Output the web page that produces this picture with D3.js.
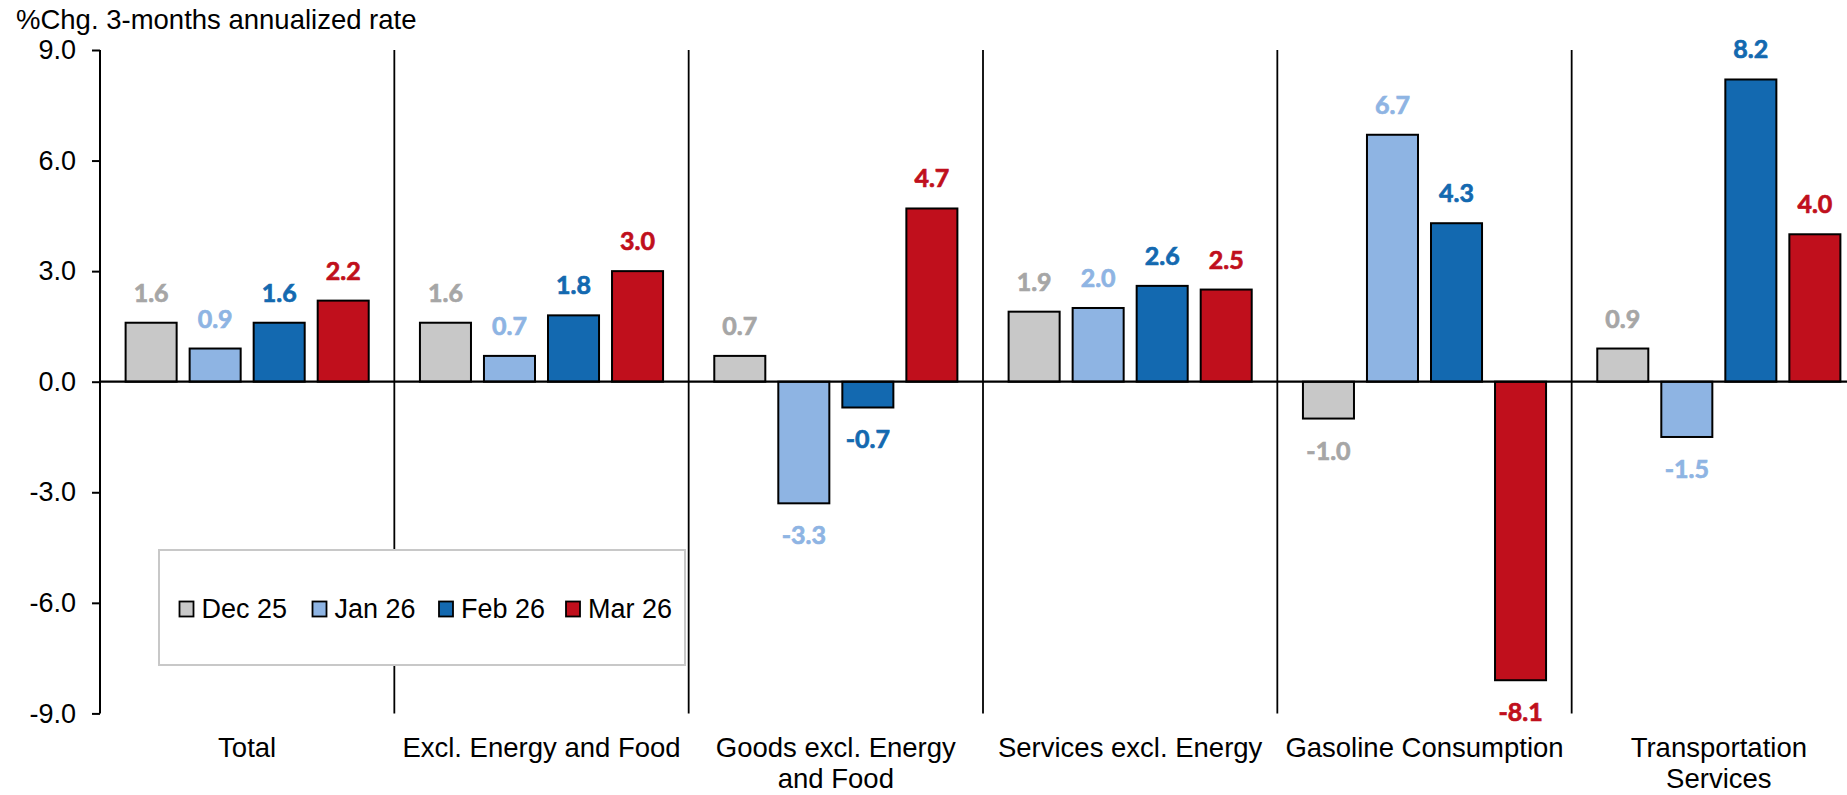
<!DOCTYPE html>
<html>
<head>
<meta charset="utf-8">
<script src="https://cdn.jsdelivr.net/npm/d3@7/dist/d3.min.js"></script>
<style>
  html, body { margin: 0; padding: 0; background: #fff; }
  svg { display: block; }
</style>
</head>
<body>
<svg id="chart" width="1847" height="795"></svg>
<script>
// Category labels (line breaks mark the wrapped axis labels)
const categories = [
  "Total",
  "Excl. Energy and Food",
  "Goods excl. Energy\nand Food",
  "Services excl. Energy",
  "Gasoline Consumption",
  "Transportation\nServices"
];
const seriesNames = ["Dec 25", "Jan 26", "Feb 26", "Mar 26"];

// %Chg., 3-months annualized rate, one array per month
const dec25 = [1.6, 1.6, 0.7, 1.9, -1.0, 0.9];
const jan26 = [0.9, 0.7, -3.3, 2.0, 6.7, -1.5];
const feb26 = [1.6, 1.8, -0.7, 2.6, 4.3, 8.2];
const mar26 = [2.2, 3.0, 4.7, 2.5, -8.1, 4.0];

const yTicks = [-9, -6, -3, 0, 3, 6, 9];

const fills = ["#C8C8C8", "#8EB4E3", "#1369B0", "#C00F1C"];
const labelColors = ["#A6A6A6", "#8EB4E3", "#1369B0", "#C00F1C"];

const seriesValues = [dec25, jan26, feb26, mar26];
const rows = [];
categories.forEach((c, ci) => {
  seriesNames.forEach((s, si) => {
    rows.push({ category: c, series: s, si, value: seriesValues[si][ci] });
  });
});

const svg = d3.select("#chart");
const axisFont = "'Liberation Sans', Arial, sans-serif";
const labelFont = "Lato, 'Open Sans', sans-serif";

const x0 = d3.scaleBand().domain(categories).range([100, 1866]).paddingInner(0).paddingOuter(0);
const x1 = d3.scaleBand().domain(seriesNames).range([0, x0.bandwidth()]).paddingInner(0.203).paddingOuter(0.4);
const y = d3.scaleLinear().domain([-9, 9]).range([713.4, 50]);

// Title
svg.append("text")
  .attr("x", 16).attr("y", 29)
  .attr("font-family", axisFont).attr("font-size", 27.5)
  .attr("fill", "#000")
  .text("%Chg. 3-months annualized rate");

// Category separators
svg.append("g").selectAll("line")
  .data(categories.slice(1))
  .join("line")
  .attr("x1", d => x0(d)).attr("x2", d => x0(d))
  .attr("y1", y(9)).attr("y2", y(-9))
  .attr("stroke", "#000").attr("stroke-width", 1.8);

// Y axis
const yAxis = svg.append("g")
  .attr("transform", "translate(100,0)")
  .call(d3.axisLeft(y).tickValues(yTicks).tickFormat(d => d.toFixed(1)).tickSize(8).tickPadding(16));
yAxis.select(".domain").attr("stroke", "#000").attr("stroke-width", 2).attr("d", `M0,${y(9)}V${y(-9)}`);
yAxis.selectAll(".tick line").attr("stroke", "#000").attr("stroke-width", 2);
yAxis.selectAll(".tick text")
  .attr("font-family", axisFont).attr("font-size", 27).attr("fill", "#000");

// Bars
const groups = svg.append("g").selectAll("g")
  .data(categories)
  .join("g")
  .attr("transform", d => `translate(${x0(d)},0)`);

groups.selectAll("rect")
  .data(c => rows.filter(r => r.category === c))
  .join("rect")
  .attr("x", d => x1(d.series))
  .attr("width", x1.bandwidth())
  .attr("y", d => y(Math.max(0, d.value)))
  .attr("height", d => Math.abs(y(d.value) - y(0)))
  .attr("fill", d => fills[d.si])
  .attr("stroke", "#000").attr("stroke-width", 2);

// Zero line
svg.append("line")
  .attr("x1", 100).attr("x2", 1847)
  .attr("y1", y(0)).attr("y2", y(0))
  .attr("stroke", "#000").attr("stroke-width", 2.2);

// Value labels
groups.selectAll("text.val")
  .data(c => rows.filter(r => r.category === c))
  .join("text")
  .attr("class", "val")
  .attr("x", d => x1(d.series) + x1.bandwidth() / 2)
  .attr("y", d => d.value >= 0 ? y(d.value) - 21 : y(d.value) + 41)
  .attr("text-anchor", "middle")
  .attr("font-family", labelFont).attr("font-weight", 700).attr("font-size", 25)
  .attr("fill", d => labelColors[d.si])
  .attr("stroke", d => labelColors[d.si]).attr("stroke-width", 0.7)
  .text(d => d.value.toFixed(1));

// Category axis labels
const catLabels = svg.append("g").selectAll("text")
  .data(categories)
  .join("text")
  .attr("x", d => x0(d) + x0.bandwidth() / 2)
  .attr("y", 757)
  .attr("text-anchor", "middle")
  .attr("font-family", axisFont).attr("font-size", 27.5).attr("fill", "#000");
catLabels.selectAll("tspan")
  .data(d => d.split("\n"))
  .join("tspan")
  .attr("x", function () { return d3.select(this.parentNode).attr("x"); })
  .attr("dy", (d, i) => i === 0 ? 0 : 31)
  .text(d => d);

// Legend
const legend = svg.append("g");
legend.append("rect")
  .attr("x", 159).attr("y", 550).attr("width", 526).attr("height", 115)
  .attr("fill", "#fff").attr("stroke", "#C8C8C8").attr("stroke-width", 2);
const legendX = [179.5, 312.5, 439, 566];
const items = legend.selectAll("g.item")
  .data(seriesNames)
  .join("g")
  .attr("class", "item")
  .attr("transform", (d, i) => `translate(${legendX[i]},609)`);
items.append("rect")
  .attr("x", 0).attr("y", -7.5).attr("width", 14).attr("height", 15)
  .attr("fill", (d, i) => fills[i]).attr("stroke", "#000").attr("stroke-width", 1.8);
items.append("text")
  .attr("x", 22).attr("y", 0).attr("dy", "0.35em")
  .attr("font-family", axisFont).attr("font-size", 27).attr("fill", "#000")
  .text(d => d);
</script>
</body>
</html>
